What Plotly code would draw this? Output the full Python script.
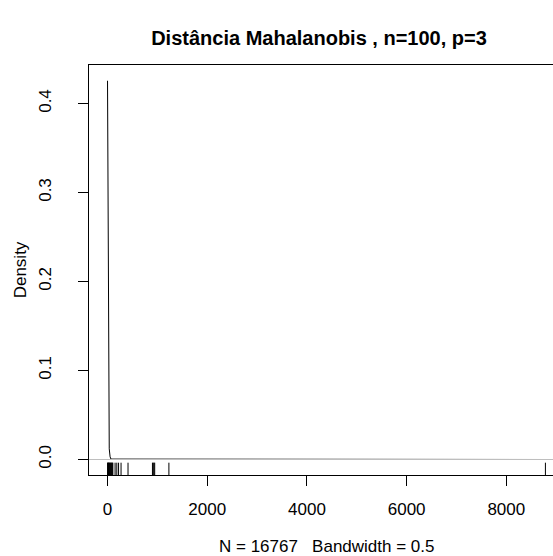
import plotly.graph_objects as go

# Density curve (grid points of the kernel estimate)
dens_x = [-1.4, 15.8, 33.0, 50.2, 67.4, 8793.0]
dens_y = [0.4256, 0.155, 0.012, 0.003, 0.0005, 0.0]

# Rug values (observations)
rug_x = [0, 5, 12, 20, 28, 35, 45, 55, 65, 75, 85, 95, 105,
         150, 185, 220, 270, 410, 900, 915, 930, 945, 1230, 8785]

x_ticks = [0, 2000, 4000, 6000, 8000]
y_ticks = [0.0, 0.1, 0.2, 0.3, 0.4]

title_text = "Distância Mahalanobis , n=100, p=3"
xlab = "N = 16767\u00a0\u00a0\u00a0Bandwidth = 0.5"
ylab = "Density"

FONT = "Liberation Sans, Arial, sans-serif"

fig = go.Figure()
fig.add_trace(go.Scatter(x=dens_x, y=dens_y, mode="lines",
                         line=dict(color="black", width=1),
                         hoverinfo="skip", showlegend=False))

shapes = []
for v in rug_x:
    shapes.append(dict(type="line", xref="x", yref="y domain",
                       x0=v, x1=v, y0=0, y1=0.03,
                       line=dict(color="black", width=1)))
shapes.append(dict(type="line", xref="x domain", yref="y",
                   x0=0, x1=1, y0=0, y1=0,
                   line=dict(color="#BEBEBE", width=1), layer="above"))

fig.update_layout(
    width=553, height=556,
    margin=dict(l=89, r=0, t=65, b=81),
    paper_bgcolor="white", plot_bgcolor="white",
    font=dict(family=FONT, size=17, color="black"),
    title=dict(text=title_text, xref="container", yref="container",
               x=319/553, y=1-38/556, xanchor="center", yanchor="middle",
               font=dict(family=FONT, size=20, color="black", weight="bold")),
    shapes=shapes,
    annotations=[dict(text=xlab, xref="paper", yref="paper",
                      x=(326.5-89)/464, y=(475-546)/410,
                      xanchor="center", yanchor="middle", showarrow=False,
                      font=dict(family=FONT, size=17, color="black"))],
    xaxis=dict(range=[-373.2, 8937], tickvals=x_ticks,
               ticktext=[str(t) for t in x_ticks],
               showgrid=False, zeroline=False,
               showline=True, linecolor="black", linewidth=1, mirror=True,
               ticks="outside", ticklen=10, tickcolor="black", tickwidth=1,
               tickfont=dict(size=17), ticklabelstandoff=9),
    yaxis=dict(range=[-0.0174, 0.4433], tickvals=y_ticks,
               ticktext=["%.1f" % t for t in y_ticks],
               tickangle=-90,
               showgrid=False, zeroline=False,
               showline=True, linecolor="black", linewidth=1, mirror=False,
               ticks="outside", ticklen=10, tickcolor="black", tickwidth=1,
               tickfont=dict(size=17), ticklabelstandoff=20,
               title=dict(text=ylab, font=dict(size=17), standoff=5)),
)

fig.write_html("out.html")
